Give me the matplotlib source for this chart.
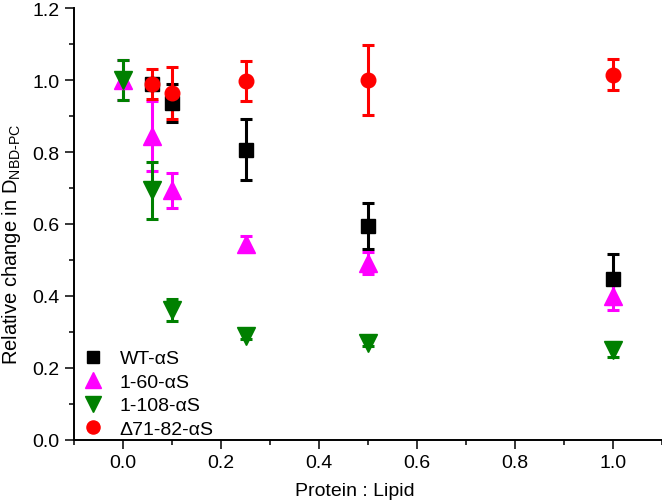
import matplotlib
matplotlib.use("Agg")
import matplotlib.pyplot as plt
from matplotlib.lines import Line2D

plt.rcParams['font.family'] = ['Liberation Sans', 'DejaVu Sans']
plt.rcParams['mathtext.fontset'] = 'custom'
plt.rcParams['mathtext.rm'] = 'Liberation Sans'
plt.rcParams['mathtext.it'] = 'Liberation Sans:italic'

# Data
wt_x = [0.06, 0.1, 0.25, 0.5, 1.0]
wt_y = [0.99, 0.937, 0.807, 0.594, 0.447]
wt_e = [0.01, 0.053, 0.086, 0.063, 0.07]

m60_x = [0.0, 0.06, 0.1, 0.25, 0.5, 1.0]
m60_y = [1.0, 0.845, 0.693, 0.543, 0.492, 0.40]
m60_e = [0.055, 0.097, 0.05, 0.022, 0.031, 0.04]

m108_x = [0.0, 0.06, 0.1, 0.25, 0.5, 1.0]
m108_y = [1.0, 0.693, 0.36, 0.289, 0.269, 0.25]
m108_e = [0.055, 0.078, 0.03, 0.01, 0.01, 0.02]

d71_x = [0.06, 0.1, 0.25, 0.5, 1.0]
d71_y = [0.99, 0.965, 0.997, 1.0, 1.015]
d71_e = [0.042, 0.072, 0.056, 0.098, 0.043]

labels = ['WT-αS', '1-60-αS', '1-108-αS', 'Δ71-82-αS']
colors = ['black', '#ff00ff', 'green', 'red']
markers = ['s', '^', 'v', 'o']
msizes = [9.5, 12.5, 12.5, 10.5]

series = [(wt_x, wt_y, wt_e), (m60_x, m60_y, m60_e),
          (m108_x, m108_y, m108_e), (d71_x, d71_y, d71_e)]

fig = plt.figure(figsize=(6.62, 5.02), dpi=100)
ax = fig.add_axes([74/662, (502-440.5)/502, 1-74/662, (440.5-9.3)/502])

handles = []
for (x, y, e), c, m, ms, lab in zip(series, colors, markers, msizes, labels):
    ax.errorbar(x, y, yerr=e, fmt=m, color=c, ms=ms, mec=c, mfc=c,
                elinewidth=2.2, capsize=4.5, capthick=2.2, linestyle='none')
    handles.append(Line2D([], [], marker=m, color=c, ms=ms*0.9, linestyle='none', label=lab))

ax.set_xlim(-0.1, 1.1)
ax.set_ylim(0.0, 1.2)
ax.set_xticks([0.0, 0.2, 0.4, 0.6, 0.8, 1.0])
ax.set_yticks([0.0, 0.2, 0.4, 0.6, 0.8, 1.0, 1.2])
ax.set_xticks([-0.1, 0.1, 0.3, 0.5, 0.7, 0.9, 1.1], minor=True)
ax.set_yticks([0.1, 0.3, 0.5, 0.7, 0.9, 1.1], minor=True)
ax.xaxis.set_major_formatter(matplotlib.ticker.FormatStrFormatter('%.1f'))
ax.yaxis.set_major_formatter(matplotlib.ticker.FormatStrFormatter('%.1f'))

for s in ['top', 'right']:
    ax.spines[s].set_visible(False)
for s in ['left', 'bottom']:
    ax.spines[s].set_linewidth(1.4)
ax.tick_params(which='major', direction='out', length=6.5, width=1.1, labelsize=14, pad=4)
ax.tick_params(which='minor', direction='out', length=3.3, width=1.1)

ax.set_xlabel('Protein : Lipid', fontsize=14)
ax.xaxis.set_label_coords(0.478, -0.098)
ax.set_ylabel(r'Relative change in D$_{\mathrm{NBD\text{-}PC}}$', fontsize=14.5)
ax.yaxis.set_label_coords(-0.086, 0.455)

ax.legend(handles=handles, loc='lower left', bbox_to_anchor=(-0.007, -0.023),
          frameon=False, fontsize=14, handletextpad=0.75, labelspacing=0.3,
          borderaxespad=0.2, handlelength=1.2)

fig.savefig('out.png', dpi=100)
